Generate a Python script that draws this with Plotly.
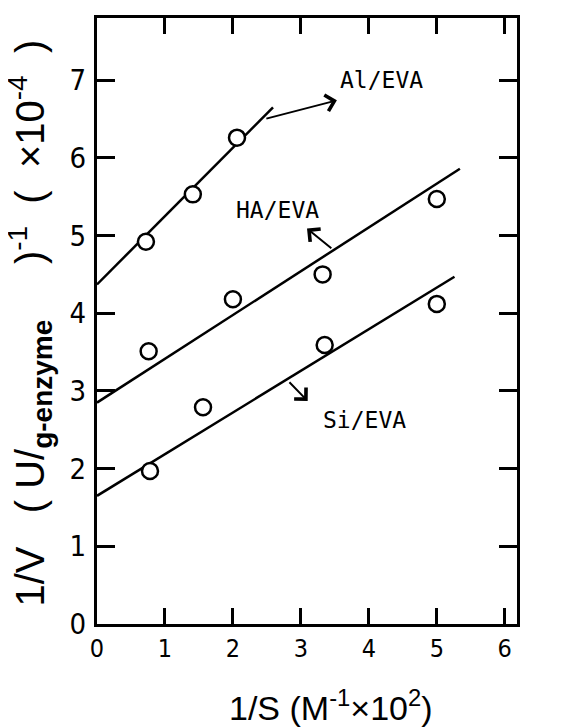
import plotly.graph_objects as go

# Data
al_x = [0.72, 1.41, 2.06]
al_y = [4.92, 5.53, 6.26]
ha_x = [0.76, 2.00, 3.32, 5.00]
ha_y = [3.51, 4.18, 4.50, 5.47]
si_x = [0.78, 1.56, 3.35, 5.00]
si_y = [1.97, 2.79, 3.59, 4.12]

# Fitted lines (endpoints as drawn)
al_line_x = [0.0, 2.59]
al_line_y = [4.37, 6.65]
ha_line_x = [0.0, 5.34]
ha_line_y = [2.85, 5.86]
si_line_x = [0.0, 5.26]
si_line_y = [1.65, 4.47]

x_ticks = [0, 1, 2, 3, 4, 5, 6]
y_ticks = [0, 1, 2, 3, 4, 5, 6, 7]

TICKFONT = "Liberation Sans Narrow, DejaVu Sans Condensed, Liberation Sans, sans-serif"
TITLEFONT = "Liberation Sans, Arial, sans-serif"
LABELFONT = "DejaVu Sans Mono, Liberation Mono, monospace"

fig = go.Figure()
for lx, ly in [(al_line_x, al_line_y), (ha_line_x, ha_line_y), (si_line_x, si_line_y)]:
    fig.add_trace(go.Scatter(x=lx, y=ly, mode="lines",
                             line=dict(color="black", width=2.5),
                             showlegend=False, hoverinfo="skip"))
for px, py in [(al_x, al_y), (ha_x, ha_y), (si_x, si_y)]:
    fig.add_trace(go.Scatter(x=px, y=py, mode="markers",
                             marker=dict(symbol="circle", size=16, color="white",
                                         line=dict(color="black", width=2.5)),
                             showlegend=False))

# Labels with arrows
labels = [
    ("Al/EVA", 4.19, 7.0, 2.47, 6.50, 3.53, 6.74),
    ("HA/EVA", 2.65, 5.33, 3.47, 4.82, 3.09, 5.09),
    ("Si/EVA", 3.94, 2.62, 2.81, 3.13, 3.10, 2.87),
]
for txt, tx, ty, ax_, ay_, hx, hy in labels:
    fig.add_annotation(x=tx, y=ty, text=txt, showarrow=False,
                       font=dict(family=LABELFONT, size=23, color="black"))
    fig.add_annotation(x=hx, y=hy, ax=ax_, ay=ay_, xref="x", yref="y",
                       axref="x", ayref="y", text="", showarrow=True,
                       arrowhead=4, arrowsize=1.6, arrowwidth=2, arrowcolor="black")

# Axis titles
fig.add_annotation(xref="paper", yref="paper", x=0.557, y=-0.135,
                   text="1/S (M<sup>-1</sup>×10<sup>2</sup>)", showarrow=False,
                   font=dict(family=TITLEFONT, size=34, color="black"), yanchor="middle")
fig.add_annotation(xref="paper", yref="paper", x=-0.160, y=0.497,
                   text="1/V&nbsp;&nbsp;&nbsp;(&nbsp;U/<sub><b>g-enzyme</b></sub>"
                        "&nbsp;&nbsp;&nbsp;&nbsp;&nbsp;)<sup>-1</sup>"
                        "&nbsp;&nbsp;(&nbsp;&nbsp;×10<sup>-4</sup>&nbsp;&nbsp;)",
                   textangle=-90, showarrow=False,
                   font=dict(family=TITLEFONT, size=40, color="black"),
                   xanchor="center", yanchor="middle")

axis_common = dict(showgrid=False, zeroline=False, showline=True, linecolor="black",
                   linewidth=3, mirror="ticks", ticks="inside", tickwidth=3,
                   tickcolor="black")
fig.update_xaxes(range=[0, 6.18], tickvals=x_ticks, ticklen=16,
                 tickfont=dict(family=TICKFONT, size=25, color="black"), **axis_common)
fig.update_yaxes(range=[0, 7.8], tickvals=y_ticks, ticklen=18, ticklabelstandoff=2,
                 tickfont=dict(family=TICKFONT, size=29, color="black"), **axis_common)

# page body has an 8px margin; compensate so the plot frame lands where the reference has it
fig.update_layout(width=574, height=720, plot_bgcolor="white", paper_bgcolor="white",
                  margin=dict(l=89, r=65, t=7, b=104), showlegend=False)

fig.write_html("out.html")
